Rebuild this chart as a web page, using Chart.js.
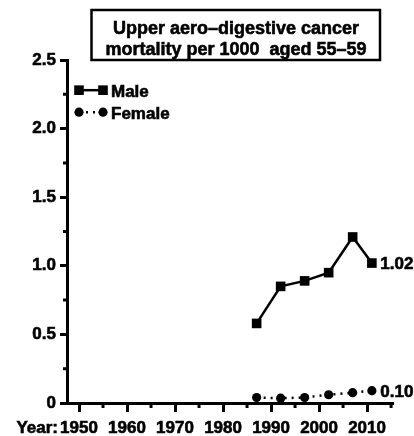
<!DOCTYPE html>
<html>
<head>
<meta charset="utf-8">
<script src="https://cdn.jsdelivr.net/npm/chart.js@4"></script>
<style>
  html, body { margin: 0; padding: 0; background: #fff; }
  canvas { display: block; }
</style>
</head>
<body>
<canvas id="chart" width="414" height="436"></canvas>
<script>
// data
const years = [1987, 1992, 1997, 2002, 2007, 2011];
const male = [0.58, 0.85, 0.89, 0.95, 1.21, 1.02];
const female = [0.04, 0.035, 0.04, 0.06, 0.075, 0.09];
const endLabels = ["1.02", "0.10"];

// legend keys sit inside the plot, in data units
const legendX = [1950, 1955];
const legendMaleY = 2.28;
const legendFemaleY = 2.12;

const xMajor = [1950, 1960, 1970, 1980, 1990, 2000, 2010];
const xMinor = [1955, 1965, 1975, 1985, 1995, 2005, 2015];
const yMajor = [0, 0.5, 1.0, 1.5, 2.0, 2.5];
const yMinor = [0.25, 0.75, 1.25, 1.75, 2.25];

const titleLines = ["Upper aero\u2013digestive cancer", "mortality per 1000  aged 55\u201359"];

const FONT = "'Liberation Sans', Arial, sans-serif";

function pts(xs, ys) {
  return xs.map((x, i) => ({ x: x, y: Array.isArray(ys) ? ys[i] : ys }));
}

// heavier text, like the blurred bold of the original
function heavyText(ctx, s, x, y) {
  ctx.fillText(s, x, y);
  ctx.strokeText(s, x, y);
}

// title box, "Year:", legend names, end labels, short minor ticks
const extras = {
  id: "extras",
  afterDraw(chart) {
    const ctx = chart.ctx;
    const xs = chart.scales.x, ys = chart.scales.y;
    ctx.save();
    ctx.strokeStyle = "#000";
    ctx.fillStyle = "#000";

    // minor ticks
    ctx.lineWidth = 3;
    ctx.beginPath();
    xMinor.forEach(v => {
      const px = xs.getPixelForValue(v);
      ctx.moveTo(px, xs.top);
      ctx.lineTo(px, xs.top + 5);
    });
    yMinor.forEach(v => {
      const py = ys.getPixelForValue(v);
      ctx.moveTo(ys.right, py);
      ctx.lineTo(ys.right - 4, py);
    });
    ctx.stroke();

    // title box
    ctx.lineWidth = 2.5;
    ctx.strokeRect(91.5, 10, 288.5, 50);
    ctx.lineWidth = 0.6;
    ctx.font = "bold 18px " + FONT;
    ctx.textAlign = "center";
    ctx.textBaseline = "alphabetic";
    heavyText(ctx, titleLines[0], 236, 34);
    heavyText(ctx, titleLines[1], 236, 55);

    // legend names
    ctx.font = "bold 17px " + FONT;
    ctx.textAlign = "left";
    ctx.textBaseline = "middle";
    const lx = xs.getPixelForValue(legendX[1]) + 8;
    heavyText(ctx, "Male", lx, ys.getPixelForValue(legendMaleY) + 2);
    heavyText(ctx, "Female", lx, ys.getPixelForValue(legendFemaleY) + 2);

    // end labels
    [0, 1].forEach(i => {
      const meta = chart.getDatasetMeta(i);
      const p = meta.data[meta.data.length - 1];
      heavyText(ctx, endLabels[i], p.x + 8.5, p.y + 1.5);
    });

    // "Year:"
    ctx.textAlign = "right";
    ctx.textBaseline = "alphabetic";
    heavyText(ctx, "Year:", 58, 433);
    ctx.restore();
  }
};

new Chart(document.getElementById("chart"), {
  type: "line",
  data: {
    datasets: [
      {
        label: "Male",
        data: pts(years, male),
        borderColor: "#000",
        backgroundColor: "#000",
        borderWidth: 2.5,
        pointStyle: "rect",
        pointRadius: 6.8,
        pointBorderWidth: 0
      },
      {
        label: "Female",
        data: pts(years, female),
        borderColor: "#000",
        backgroundColor: "#000",
        borderWidth: 2.5,
        borderDash: [2, 5],
        pointStyle: "circle",
        pointRadius: 4.6,
        pointBorderWidth: 0
      },
      {
        label: "Male key",
        data: pts(legendX, legendMaleY),
        borderColor: "#000",
        backgroundColor: "#000",
        borderWidth: 2.5,
        pointStyle: "rect",
        pointRadius: 6.8,
        pointBorderWidth: 0
      },
      {
        label: "Female key",
        data: pts(legendX, legendFemaleY),
        borderColor: "#000",
        backgroundColor: "#000",
        borderWidth: 2.5,
        borderDash: [2, 5],
        pointStyle: "circle",
        pointRadius: 4.6,
        pointBorderWidth: 0
      }
    ]
  },
  options: {
    responsive: false,
    animation: false,
    devicePixelRatio: 1,
    layout: { padding: { top: 60, right: 21, left: 0, bottom: 0 } },
    plugins: { legend: { display: false }, tooltip: { enabled: false } },
    scales: {
      x: {
        type: "linear",
        min: 1947.5,
        max: 2015.4,
        afterBuildTicks: s => { s.ticks = xMajor.map(v => ({ value: v })); },
        afterFit: s => { s.height = 33; },
        border: { display: true, color: "#000", width: 3 },
        grid: { drawOnChartArea: false, drawTicks: true, tickLength: 9, tickWidth: 3, tickColor: "#000" },
        ticks: {
          color: "#000",
          padding: 6,
          textStrokeColor: "#000",
          textStrokeWidth: 0.6,
          font: { family: FONT, size: 17, weight: "bold" },
          maxRotation: 0,
          callback: v => String(v)
        }
      },
      y: {
        min: 0,
        max: 2.5,
        afterBuildTicks: s => { s.ticks = yMajor.map(v => ({ value: v })); },
        afterFit: s => { s.width = 67; },
        border: { display: true, color: "#000", width: 3 },
        grid: { drawOnChartArea: false, drawTicks: true, tickLength: 7, tickWidth: 3, tickColor: "#000" },
        ticks: {
          color: "#000",
          padding: 4,
          textStrokeColor: "#000",
          textStrokeWidth: 0.6,
          font: { family: FONT, size: 17, weight: "bold" },
          callback: v => (v === 0 ? "0" : v.toFixed(1))
        }
      }
    }
  },
  plugins: [extras]
});
</script>
</body>
</html>
